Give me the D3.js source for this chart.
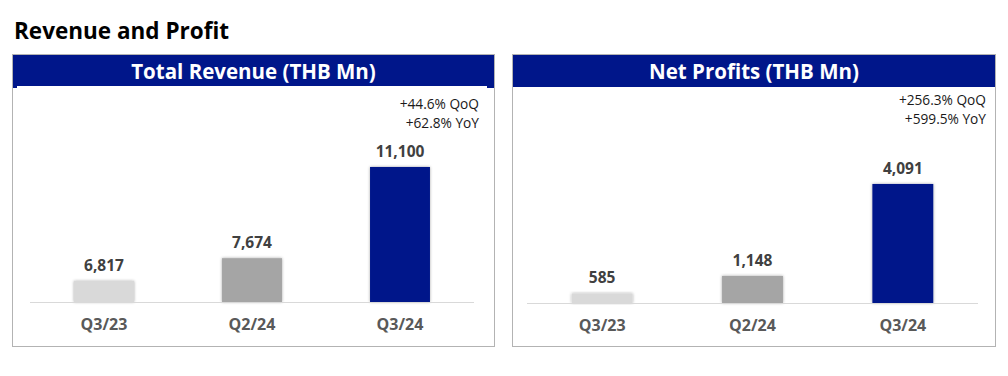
<!DOCTYPE html>
<html lang="en">
<head>
    <meta charset="UTF-8">
    <title>Revenue and Profit</title>
    <script src="https://d3js.org/d3.v7.min.js"></script>
    <style>
        body {
            margin: 0;
            padding: 0;
            background: #fff;
            font-family: "Open Sans", Arial, sans-serif;
        }
        svg { display: block; }
        .page-title { font-size: 22.5px; font-weight: 700; fill: #000; }
        .panel-title { font-size: 20.5px; font-weight: 700; fill: #fff; }
        .delta { font-size: 13.7px; fill: #1a1a1a; }
        .value { font-size: 15.5px; font-weight: 700; fill: #404040; }
        .cat { font-size: 16px; font-weight: 700; fill: #595959; }
    </style>
</head>
<body>
    <svg id="chart"></svg>

    <script>
        // Data
        const quarters = ["Q3/23", "Q2/24", "Q3/24"];
        const revenue = [6817, 7674, 11100];
        const netProfit = [585, 1148, 4091];
        const revenueDeltas = ["+44.6% QoQ", "+62.8% YoY"];
        const profitDeltas = ["+256.3% QoQ", "+599.5% YoY"];
        const barColors = ["#d9d9d9", "#a5a5a5", "#00168a"];

        const width = 1008, height = 376;
        const navy = "#00168a";

        const svg = d3.select("#chart").attr("width", width).attr("height", height);

        // soft shadow behind the bars
        const defs = svg.append("defs");
        const shadow = defs.append("filter").attr("id", "barShadow")
            .attr("x", "-20%").attr("y", "-20%").attr("width", "140%").attr("height", "140%");
        shadow.append("feDropShadow")
            .attr("dx", 0).attr("dy", 0).attr("stdDeviation", 1.6)
            .attr("flood-color", "#000").attr("flood-opacity", 0.35);

        svg.append("text")
            .attr("class", "page-title")
            .attr("x", 14).attr("y", 39)
            .text("Revenue and Profit");

        // panel boxes: left edge, width, axis range, value domain (axis does not start at 0)
        const panels = [
            { title: "Total Revenue (THB Mn)", values: revenue, deltas: revenueDeltas,
              x: 12, w: 482, axis: [30, 474], base: 302, domain: [6028, 13616], deltaX: 479, deltaY: 109, notch: true },
            { title: "Net Profits (THB Mn)", values: netProfit, deltas: profitDeltas,
              x: 512, w: 483, axis: [527, 978], base: 303, domain: [280, 6780], deltaX: 986, deltaY: 105, notch: false }
        ];

        const boxTop = 54, boxBottom = 346;

        panels.forEach(p => {
            const g = svg.append("g");

            // outer border
            g.append("rect")
                .attr("x", p.x + 0.5).attr("y", boxTop + 0.5)
                .attr("width", p.w).attr("height", boxBottom - boxTop)
                .attr("fill", "#fff")
                .attr("stroke", "#b3b3b3");

            // navy header
            g.append("rect")
                .attr("x", p.x + 1).attr("y", boxTop + 1)
                .attr("width", p.w - 1).attr("height", p.notch ? 33 : 32)
                .attr("fill", navy);
            if (p.notch) {
                g.append("rect")
                    .attr("x", p.x + 5).attr("y", 86)
                    .attr("width", p.w - 12).attr("height", 3)
                    .attr("fill", "#fff");
            }

            g.append("text")
                .attr("class", "panel-title")
                .attr("x", p.x + p.w / 2 + 0.5).attr("y", 79)
                .attr("text-anchor", "middle")
                .text(p.title);

            // growth notes
            g.selectAll(".delta")
                .data(p.deltas)
                .enter().append("text")
                .attr("class", "delta")
                .attr("x", p.deltaX)
                .attr("y", (d, i) => p.deltaY + i * 19)
                .attr("text-anchor", "end")
                .text(d => d);

            const x = d3.scaleBand()
                .domain(quarters)
                .range(p.axis)
                .paddingInner(0.595)
                .paddingOuter(0.2975);

            const y = d3.scaleLinear()
                .domain(p.domain)
                .range([p.base, 100]);

            g.selectAll(".bar")
                .data(p.values)
                .enter().append("rect")
                .attr("class", "bar")
                .attr("x", (d, i) => x(quarters[i]))
                .attr("y", d => y(d))
                .attr("width", x.bandwidth())
                .attr("height", d => p.base - y(d))
                .attr("fill", (d, i) => barColors[i])
                .attr("filter", "url(#barShadow)");

            // baseline
            g.append("line")
                .attr("x1", p.axis[0]).attr("x2", p.axis[1])
                .attr("y1", p.base + 0.5).attr("y2", p.base + 0.5)
                .attr("stroke", "#d9d9d9")
                .attr("stroke-width", 1);

            g.selectAll(".value")
                .data(p.values)
                .enter().append("text")
                .attr("class", "value")
                .attr("x", (d, i) => x(quarters[i]) + x.bandwidth() / 2)
                .attr("y", d => y(d) - 10)
                .attr("text-anchor", "middle")
                .text(d => d3.format(",")(d));

            const axis = d3.axisBottom(x).tickSize(0).tickPadding(0);
            const ax = g.append("g")
                .attr("transform", `translate(0,${p.base})`)
                .call(axis);
            ax.select(".domain").remove();
            ax.selectAll("text")
                .attr("class", "cat")
                .attr("dy", null)
                .attr("y", 28)
                .attr("font-family", null)
                .attr("font-size", null)
                .attr("fill", null);
            ax.attr("font-family", null).attr("font-size", null);
        });
    </script>
</body>
</html>
